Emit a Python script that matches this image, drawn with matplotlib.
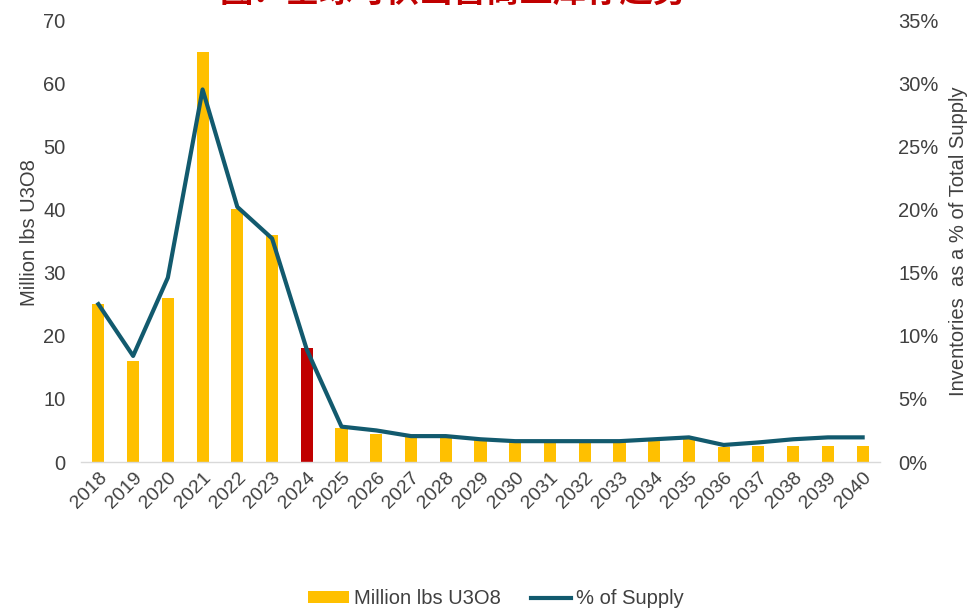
import matplotlib
matplotlib.use("Agg")
import matplotlib.pyplot as plt
from matplotlib.ticker import FuncFormatter, MultipleLocator

plt.rcParams['font.family'] = ['Liberation Sans', 'DejaVu Sans']

years = [str(y) for y in range(2018, 2041)]
inventory_mlbs = [25, 16, 26, 65, 40, 36, 18, 5.4, 4.5, 4.2, 4.3, 3.7, 3.3, 3.3,
                  3.3, 3.2, 3.4, 3.6, 2.4, 2.5, 2.5, 2.5, 2.5]
pct_of_supply = [12.5, 8.4, 14.6, 29.5, 20.2, 17.7, 8.9, 2.8, 2.5, 2.05, 2.05, 1.8,
                 1.65, 1.65, 1.65, 1.65, 1.8, 1.95, 1.35, 1.55, 1.8, 1.95, 1.95]
highlight_year = "2024"

title = "图：全球可供出售商业库存趋势"
left_label = "Million lbs U3O8"
right_label = "Inventories  as a % of Total Supply"
bar_legend = "Million lbs U3O8"
line_legend = "% of Supply"

BAR = "#FFC000"
HIGHLIGHT = "#C00000"
LINE = "#125A6E"
TEXT = "#404040"
FS = 14.5

fig = plt.figure(figsize=(9.69, 6.08), dpi=100)
ax = fig.add_axes([81 / 969, 1 - 462 / 608, (880 - 81) / 969, (462 - 20) / 608])

x = list(range(len(years)))
colors = [HIGHLIGHT if y == highlight_year else BAR for y in years]
bars = ax.bar(x, inventory_mlbs, width=0.35, color=colors, zorder=2, label=bar_legend)

ax.set_xlim(-0.5, len(years) - 0.5)
ax.set_ylim(0, 70)
ax.yaxis.set_major_locator(MultipleLocator(10))
ax.set_xticks(x)
ax.set_xticklabels(years, rotation=45, ha='right', rotation_mode='anchor')
ax.tick_params(axis='both', length=0, labelsize=FS, labelcolor=TEXT)
ax.tick_params(axis='x', pad=5, labelsize=14)
ax.tick_params(axis='y', pad=11)
for s in ['top', 'right', 'left']:
    ax.spines[s].set_visible(False)
ax.spines['bottom'].set_color('#D9D9D9')
ax.spines['bottom'].set_linewidth(1.0)
ax.set_ylabel(left_label, fontsize=FS, color=TEXT)
ax.yaxis.set_label_coords(-0.053, 0.52)

ax2 = ax.twinx()
line, = ax2.plot(x, pct_of_supply, color=LINE, linewidth=3.0, zorder=3, label=line_legend)
ax2.set_ylim(0, 35)
ax2.yaxis.set_major_locator(MultipleLocator(5))
ax2.yaxis.set_major_formatter(FuncFormatter(lambda v, p: f"{v:.0f}%"))
ax2.tick_params(axis='y', length=0, labelsize=FS, labelcolor=TEXT, pad=13)
for s in ['top', 'right', 'left', 'bottom']:
    ax2.spines[s].set_visible(False)
ax2.set_ylabel(right_label, fontsize=FS, color=TEXT, labelpad=7.5)

fig.text(453 / 969, 1 - 3 / 608, title, ha='center', va='baseline',
         fontsize=24, fontweight='bold', color='#C00000',
         family=['Noto Sans CJK SC', 'DejaVu Sans'])

fig.legend([bars, line], [bar_legend, line_legend], loc='lower center',
           bbox_to_anchor=(0.512, -0.030), ncol=2, frameon=False, fontsize=FS,
           handlelength=2.0, handleheight=0.55, columnspacing=1.5, handletextpad=0.25,
           labelcolor=TEXT)

fig.savefig("out.png", dpi=100)
